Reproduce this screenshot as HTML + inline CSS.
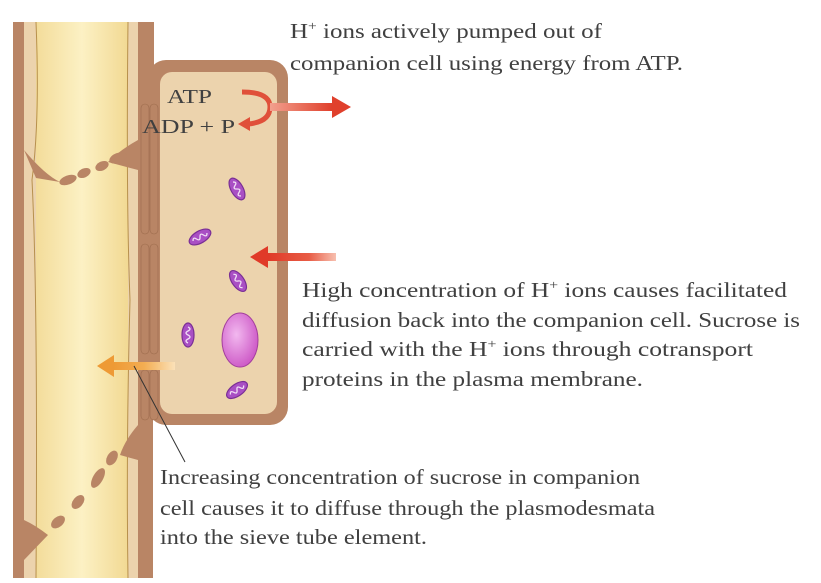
<!DOCTYPE html>
<html><head><meta charset="utf-8"><style>
html,body{margin:0;padding:0;background:#fff;}
svg{display:block;}
text{font-family:"Liberation Serif",serif;fill:#404040;}
</style></head><body>
<svg width="821" height="583" viewBox="0 0 821 583" xmlns="http://www.w3.org/2000/svg">
<defs>
<linearGradient id="yel" x1="0" x2="1" y1="0" y2="0">
<stop offset="0" stop-color="#f3dc9a"/><stop offset="0.5" stop-color="#fcf1c4"/><stop offset="1" stop-color="#f2d993"/>
</linearGradient>
<linearGradient id="red1" x1="0" x2="1"><stop offset="0" stop-color="#f2a08e"/><stop offset="1" stop-color="#e0402c"/></linearGradient>
<linearGradient id="red2" x1="1" x2="0"><stop offset="0" stop-color="#f7c0b0"/><stop offset="0.4" stop-color="#e85c45"/><stop offset="1" stop-color="#e03a28"/></linearGradient>
<linearGradient id="org" x1="1" x2="0"><stop offset="0" stop-color="#fbe1b8"/><stop offset="0.5" stop-color="#f3ad52"/><stop offset="1" stop-color="#ee9a35"/></linearGradient>
<radialGradient id="nuc" cx="0.4" cy="0.4" r="0.7"><stop offset="0" stop-color="#f2b8ef"/><stop offset="1" stop-color="#c94fc2"/></radialGradient>
<g id="mito"><ellipse rx="12" ry="6" fill="#a94fc4" stroke="#7a2f95" stroke-width="1.2"/><path d="M-8 0 q2 -4 4 0 t4 0 t4 0 t4 0" fill="none" stroke="#f0dcf5" stroke-width="1.3"/></g>
</defs>
<rect x="13" y="22" width="140" height="556" fill="#b98565"/>
<rect x="24" y="22" width="114" height="556" fill="#ecd3ad"/>
<rect x="36" y="22" width="92" height="556" fill="url(#yel)"/>
<path d="M36 22 Q40 120 32 180 Q38 300 36 578" fill="none" stroke="#b7904d" stroke-width="1"/>
<path d="M128 22 Q126 200 130 300 Q126 450 128 578" fill="none" stroke="#b7904d" stroke-width="1"/>
<path d="M24 150 Q45 175 60 182 L36 178 Z" fill="#b98565"/>
<path d="M138 140 Q120 150 108 162 L138 170 Z" fill="#b98565"/>
<g fill="#b98565">
<ellipse cx="68" cy="180" rx="9" ry="4.5" transform="rotate(-20 68 180)"/>
<ellipse cx="84" cy="173" rx="7" ry="4.5" transform="rotate(-25 84 173)"/>
<ellipse cx="102" cy="166" rx="7" ry="4.5" transform="rotate(-25 102 166)"/>
<ellipse cx="118" cy="158" rx="9" ry="5" transform="rotate(-20 118 158)"/>
<ellipse cx="58" cy="522" rx="8" ry="5" transform="rotate(-40 58 522)"/>
<ellipse cx="78" cy="502" rx="8" ry="5" transform="rotate(-50 78 502)"/>
<ellipse cx="98" cy="478" rx="11" ry="5" transform="rotate(-60 98 478)"/>
<ellipse cx="112" cy="458" rx="8" ry="5" transform="rotate(-60 112 458)"/>
</g>
<path d="M24 520 Q35 525 48 535 L24 560 Z" fill="#b98565"/>
<path d="M138 425 Q125 440 120 455 L138 460 Z" fill="#b98565"/>
<rect x="148" y="60" width="140" height="365" rx="18" fill="#b98565"/>
<rect x="160" y="72" width="117" height="342" rx="12" fill="#ecd3ad"/>
<rect x="146" y="22" width="8" height="60" fill="#b98565"/>
<g fill="#b98565" stroke="#9c6b4d" stroke-width="0.6">
<rect x="141" y="104" width="8" height="130" rx="4"/>
<rect x="150" y="104" width="8" height="130" rx="4"/>
<rect x="141" y="244" width="8" height="110" rx="4"/>
<rect x="150" y="244" width="8" height="110" rx="4"/>
<rect x="141" y="370" width="8" height="50" rx="4"/>
<rect x="150" y="370" width="8" height="50" rx="4"/>
</g>
<ellipse cx="240" cy="340" rx="18" ry="27" fill="url(#nuc)" stroke="#a23f9c" stroke-width="1"/>
<use href="#mito" transform="translate(237,189) rotate(60)"/>
<use href="#mito" transform="translate(200,237) rotate(-30)"/>
<use href="#mito" transform="translate(238,281) rotate(55)"/>
<use href="#mito" transform="translate(188,335) rotate(90)"/>
<use href="#mito" transform="translate(237,390) rotate(-35)"/>
<path d="M242 92 Q270 92 270 107 Q270 122 248 124" fill="none" stroke="#e0503a" stroke-width="5"/>
<polygon points="238,124 250,117 250,131" fill="#e0503a"/>
<rect x="270" y="103" width="62" height="8" fill="url(#red1)"/>
<polygon points="332,96 351,107 332,118" fill="#e0402c"/>
<text x="167" y="103" font-size="20" textLength="45" lengthAdjust="spacingAndGlyphs">ATP</text>
<text x="142" y="133" font-size="20" textLength="93" lengthAdjust="spacingAndGlyphs">ADP + P</text>
<rect x="268" y="253" width="68" height="8" fill="url(#red2)"/>
<polygon points="268,246 250,257 268,268" fill="#e03a28"/>
<rect x="113" y="362" width="62" height="8" fill="url(#org)"/>
<polygon points="114,355 97,366 114,377" fill="#ee9a35"/>
<line x1="134" y1="366" x2="185" y2="462" stroke="#333" stroke-width="1"/>
<text x="290" y="38" font-size="21" textLength="312" lengthAdjust="spacingAndGlyphs">H<tspan font-size="13" dy="-8">+</tspan><tspan dy="8"> ions actively pumped out of</tspan></text>
<text x="290" y="70" font-size="21" textLength="393" lengthAdjust="spacingAndGlyphs">companion cell using energy from ATP.</text>
<text x="302" y="297" font-size="21" textLength="485" lengthAdjust="spacingAndGlyphs">High concentration of H<tspan font-size="13" dy="-8">+</tspan><tspan dy="8"> ions causes facilitated</tspan></text>
<text x="302" y="327" font-size="21" textLength="498" lengthAdjust="spacingAndGlyphs">diffusion back into the companion cell. Sucrose is</text>
<text x="302" y="356" font-size="21" textLength="451" lengthAdjust="spacingAndGlyphs">carried with the H<tspan font-size="13" dy="-8">+</tspan><tspan dy="8"> ions through cotransport</tspan></text>
<text x="302" y="386" font-size="21" textLength="341" lengthAdjust="spacingAndGlyphs">proteins in the plasma membrane.</text>
<text x="160" y="484" font-size="21" textLength="480" lengthAdjust="spacingAndGlyphs">Increasing concentration of sucrose in companion</text>
<text x="160" y="515" font-size="21" textLength="495" lengthAdjust="spacingAndGlyphs">cell causes it to diffuse through the plasmodesmata</text>
<text x="160" y="544" font-size="21" textLength="267" lengthAdjust="spacingAndGlyphs">into the sieve tube element.</text>
</svg>
</body></html>
